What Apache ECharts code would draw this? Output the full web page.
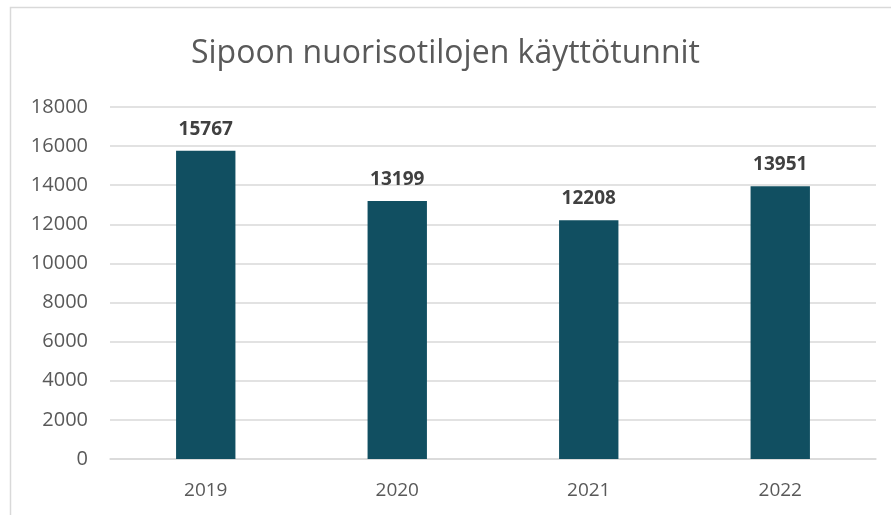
<!DOCTYPE html>
<html>
<head>
<meta charset="utf-8">
<script src="https://cdn.jsdelivr.net/npm/echarts@6/dist/echarts.min.js"></script>
<style>
  html, body { margin: 0; padding: 0; background: #fff; }
  #chart { width: 891px; height: 515px; }
</style>
</head>
<body>
<div id="chart"></div>
<script>
// vuodet ja käyttötunnit
var years = ['2019', '2020', '2021', '2022'];
var hours = [15767, 13199, 12208, 13951];

var myChart = echarts.init(document.getElementById('chart'));
myChart.setOption({
  animation: false,
  title: {
    text: 'Sipoon nuorisotilojen käyttötunnit',
    left: 'center',
    top: 33,
    textStyle: {
      fontFamily: 'Open Sans',
      fontSize: 32,
      fontWeight: 'normal',
      color: '#595959'
    }
  },
  graphic: [{
    type: 'rect',
    shape: { x: 10.5, y: 7.5, width: 1000, height: 800 },
    style: { fill: 'none', stroke: '#d9d9d9', lineWidth: 1.5 },
    silent: true
  }],
  grid: { left: 110, right: 15, top: 107, bottom: 56 },
  xAxis: {
    type: 'category',
    data: years,
    axisLine: { show: true, lineStyle: { color: '#d9d9d9', width: 1.5 } },
    axisTick: { show: false },
    axisLabel: {
      color: '#595959',
      fontFamily: 'Open Sans',
      fontSize: 19,
      margin: 22
    }
  },
  yAxis: {
    type: 'value',
    min: 0,
    max: 18000,
    interval: 2000,
    axisLine: { show: false },
    axisTick: { show: false },
    axisLabel: {
      color: '#595959',
      fontFamily: 'Open Sans',
      fontSize: 20,
      margin: 22,
      formatter: function (v) { return String(v); }
    },
    splitLine: { lineStyle: { color: '#d9d9d9', width: 1.5 } }
  },
  series: [{
    type: 'bar',
    data: hours,
    barWidth: '31%',
    itemStyle: { color: '#114f61' },
    label: {
      show: true,
      position: 'top',
      distance: 12,
      color: '#404040',
      fontFamily: 'Open Sans',
      fontSize: 19,
      fontWeight: 'bold'
    }
  }]
});
</script>
</body>
</html>
